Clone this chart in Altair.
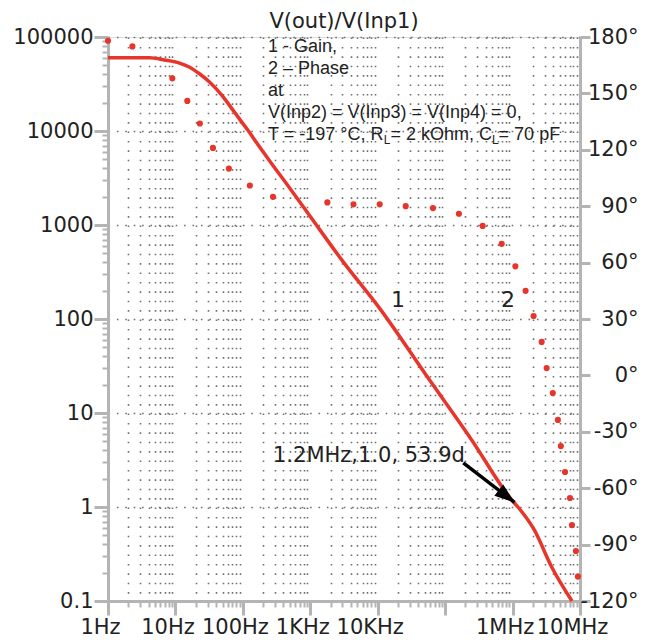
import altair as alt
import pandas as pd

# ---------------- data ----------------
title_text = "V(out)/V(Inp1)"

gain_freq = [1, 4.1, 6.9, 11.5, 16, 23, 32, 50, 70, 90, 125, 162, 250, 500,
             1000, 3000, 11100, 56000, 246000, 970000, 1200000, 2100000,
             3800000, 7600000]
gain_vals = [60000, 60000, 56900, 52800, 48000, 40400, 33200, 23500, 17000,
             13300, 9700, 7400, 4800, 2450, 1230, 415, 125, 23.5, 5.2, 1.19,
             1.0, 0.57, 0.23, 0.1]

phase_freq = [1, 2.3, 9.0, 15, 23, 36, 62, 127, 280, 1790, 4370, 10700, 26000,
              66000, 160000, 360000, 690000, 1100000, 1560000, 2050000,
              2700000, 3200000, 3950000, 4700000, 5200000, 6000000, 7100000,
              7600000, 8700000, 9300000]
phase_vals = [178, 175, 158, 146, 134, 121, 110, 101, 95, 92, 91, 91, 90, 89,
              86, 79.5, 70, 58, 45, 31.6, 17.8, 3.9, -9.4, -23.7, -37.6, -51.4,
              -65.2, -79.6, -93.4, -107]

x_decades = [1, 10, 100, 1000, 10000, 100000, 1000000, 10000000]
x_decade_labels = ["1Hz", "10Hz", "100Hz", "1KHz", "10KHz", "", "1MHz", "10MHz"]
y_decades = [0.1, 1, 10, 100, 1000, 10000, 100000]
y_decade_labels = ["0.1", "1", "10", "100", "1000", "10000", "100000"]
minor_mult = [2, 3, 4, 5, 6, 7, 8, 9]
phase_ticks = [-120, -90, -60, -30, 0, 30, 60, 90, 120, 150, 180]

legend_lines = ["1 - Gain,", "2 \u2013 Phase", "at", "V(Inp2) = V(Inp3) = V(Inp4) = 0,"]
cond_parts = ["T = -197 \u00b0C, R", "L", "= 2 kOhm, C", "L", "= 70 pF"]
curve_labels = ["1", "2"]
marker_text = "1.2MHz,1.0, 53.9d"
arrow_from = (186000, 2.94)
arrow_to = (1070000, 1.12)

# ---------------- styling ----------------
FONT = "DejaVu Sans"
TXT = "#222222"
GRAY = "#b4b4b4"
RED = "#e8352b"
DEC = "abs(log(datum.value)/LN10 - round(log(datum.value)/LN10)) < 0.001"

x_ticks = [d * m for d in x_decades[:-1] for m in [1] + minor_mult] + [x_decades[-1]]
y_ticks = [d * m for d in y_decades[:-1] for m in [1] + minor_mult] + [y_decades[-1]]


def label_expr(vals, labels):
    s = "''"
    for v, l in zip(vals, labels):
        s = f"abs(datum.value - {v}) < {v * 1e-6} ? '{l}' : " + s
    return s


xscale = alt.Scale(type="log", domain=[x_decades[0], x_decades[-1]], nice=False)
yscale = alt.Scale(type="log", domain=[y_decades[0], y_decades[-1]], nice=False)
pscale = alt.Scale(domain=[-120, 180], nice=False, zero=False)

x_axis = alt.Axis(
    values=x_ticks, labelExpr=label_expr(x_decades, x_decade_labels),
    labelFlush=False, labelOverlap=False, labelFont=FONT, labelFontSize=21,
    labelColor=TXT, labelOffset=-8, labelPadding=1,
    tickColor=GRAY,
    tickWidth={"condition": {"test": DEC, "value": 3}, "value": 2},
    tickSize={"condition": {"test": DEC, "value": 14}, "value": 6},
    domainColor=GRAY, domainWidth=3,
    grid=True, gridColor="#707070", gridWidth=1.6, gridDash=[1.6, 7.8],
    gridOpacity={"condition": {"test": DEC, "value": 0}, "value": 1},
    title=None,
)
y_axis = alt.Axis(
    orient="left", values=y_ticks, labelExpr=label_expr(y_decades, y_decade_labels),
    labelFlush=False, labelOverlap=False, labelFont=FONT, labelFontSize=21,
    labelColor=TXT, labelPadding=1, labelBaseline="middle",
    tickColor=GRAY,
    tickWidth={"condition": {"test": DEC, "value": 3}, "value": 2},
    tickSize={"condition": {"test": DEC, "value": 14}, "value": 6},
    domainColor=GRAY, domainWidth=3,
    grid=True, gridColor="#707070", gridWidth=1.6, gridDash=[1.6, 6.8],
    gridOpacity={"condition": {"test": DEC, "value": 1}, "value": 0},
    title=None,
)
p_axis = alt.Axis(
    orient="right", values=phase_ticks, labelExpr="datum.value + '\u00b0'",
    labelFlush=False, labelOverlap=False, labelFont=FONT, labelFontSize=21,
    labelColor=TXT, labelAlign="right", labelPadding=48, tickColor=GRAY,
    tickWidth=3, tickSize=10, domainColor=GRAY, domainWidth=3, grid=False,
    title=None,
)


def X(field):
    return alt.X(f"{field}:Q", scale=xscale, axis=x_axis, title=None)


def Y(field):
    return alt.Y(f"{field}:Q", scale=yscale, axis=y_axis, title=None)


gain_df = pd.DataFrame({"f": gain_freq, "g": gain_vals})
phase_df = pd.DataFrame({"f": phase_freq, "p": phase_vals})
arrow_df = pd.DataFrame({"f": [arrow_from[0]], "g": [arrow_from[1]],
                         "f1": [arrow_to[0]], "g1": [arrow_to[1]]})

gain_line = alt.Chart(gain_df).mark_line(
    color=RED, strokeWidth=3.5, interpolate="monotone").encode(x=X("f"), y=Y("g"))

arrow_rule = alt.Chart(arrow_df).mark_rule(color="black", strokeWidth=3.5).encode(
    x=X("f"), y=Y("g"), x2="f1:Q", y2="g1:Q")
arrow_head = alt.Chart(arrow_df).mark_point(
    filled=True, color="black", opacity=1, strokeWidth=0,
    shape="M0,0L-1,-0.36L-1,0.36Z", size=1600, angle=38).encode(
    x=X("f1"), y=Y("g1"))

inner = alt.layer(gain_line, arrow_rule, arrow_head)

phase_pts = alt.Chart(phase_df).mark_circle(size=38, color=RED, opacity=1).encode(
    x=X("f"), y=alt.Y("p:Q", scale=pscale, axis=p_axis, title=None))


def txt(text, x, y, font=FONT, size=21, align="left", baseline="alphabetic", **kw):
    return alt.Chart(pd.DataFrame({"t": [text]})).mark_text(
        font=font, fontSize=size, align=align, baseline=baseline, color=TXT, **kw
    ).encode(text="t:N", x=alt.value(x), y=alt.value(y))


LF = "Liberation Sans"
legend = txt("\n".join(legend_lines), 160, 15, font=LF, size=18,
             lineBreak="\n", lineHeight=22)
cx = [160, 275.7, 282.4, 383.9, 390.6]
cond = [txt(cond_parts[i], cx[i], 103 + (4 if i in (1, 3) else 0), font=LF,
            size=12 if i in (1, 3) else 18) for i in range(5)]
lab1 = txt(curve_labels[0], 290, 263, size=22, align="center", baseline="middle")
lab2 = txt(curve_labels[1], 400, 263, size=22, align="center", baseline="middle")
mark_lbl = txt(marker_text, 165, 419, size=21, baseline="middle")

chart = alt.layer(
    alt.layer(inner, legend, *cond, lab1, lab2, mark_lbl),
    phase_pts,
).resolve_scale(y="independent").properties(
    width=472, height=564,
    title=alt.TitleParams(title_text, font=FONT, fontSize=21, fontWeight="normal",
                          color=TXT, offset=-6, anchor="middle"),
    autosize=alt.AutoSizeParams(type="none"),
    padding={"left": 100, "top": 29, "right": 60, "bottom": 37},
).configure_view(stroke=GRAY, strokeWidth=3).configure(background="white")

chart.save("out.html", embed_options={"renderer": "svg", "actions": False})
